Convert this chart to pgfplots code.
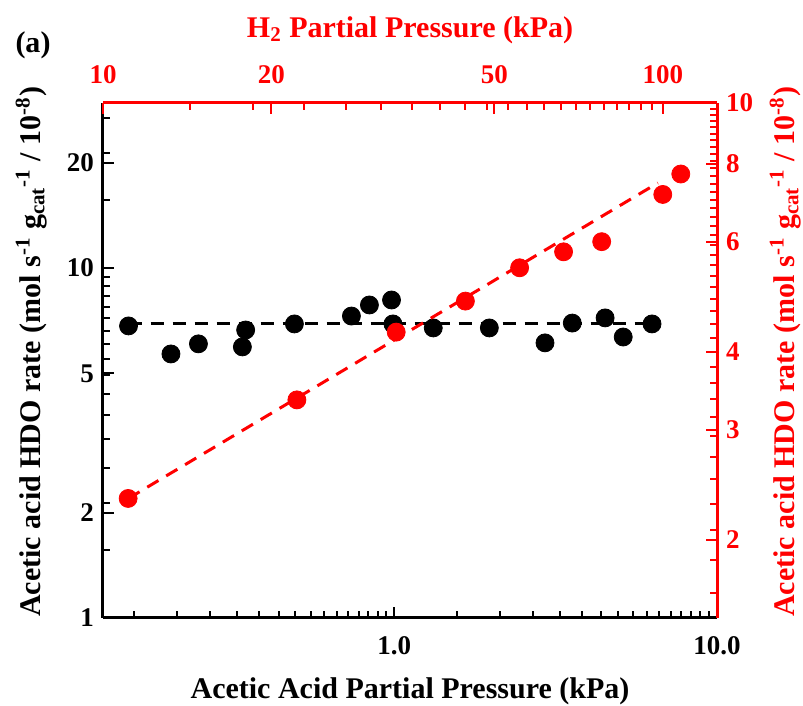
\documentclass[border=0pt]{standalone}
\usepackage{fontspec}
\setmainfont{Liberation Serif}
\usepackage{pgfplots}
\pgfplotsset{compat=1.18}
\usetikzlibrary{calc}
\definecolor{myred}{RGB}{255,0,0}

\begin{document}
\begin{tikzpicture}
\begin{axis}[name=ax,
  scale only axis, width=307pt, height=257.5pt,
  xmode=log, ymode=log,
  tick align=inside,
  major tick length=5.5pt, minor tick length=3.5pt,
  axis line style={line width=1.5pt,-},
  tick label style={font=\fontsize{13.5}{16}\selectfont\bfseries},
  label style={font=\fontsize{15}{18}\selectfont\bfseries},
  clip=false,
  xmin=0.125, xmax=10, ymin=1, ymax=29.6,
  axis x line*=bottom, axis y line*=left,
  tick style={black, line width=1pt},
  xtick={1,10}, xticklabels={1.0,10.0},
  ytick={1,2,5,10,20}, yticklabels={1,2,5,10,20},
  minor xtick={0.15625,0.2125,0.26875,0.325,0.38125,0.4375,0.49375,0.55,0.60625,0.6625,0.71875,0.775,0.83125,0.8875,0.94375,1.5625,2.125,2.6875,3.25,3.8125,4.375,4.9375,5.5,6.0625,6.625,7.1875,7.75,8.3125,8.875,9.4375},
  minor ytick={1.5625,2.125,2.6875,3.25,3.8125,4.375,4.9375,5.5,6.0625,6.625,7.1875,7.75,8.3125,8.875,9.4375,15.625,21.25,26.875},
  xticklabel style={yshift=-5.5pt},
  yticklabel style={xshift=-1pt},
  xlabel={Acetic Acid Partial Pressure (kPa)},
  ylabel={Acetic acid HDO rate (mol s\textsuperscript{-1} g\textsubscript{cat}\textsuperscript{-1} / 10\textsuperscript{-8})},
  xlabel style={at={(axis description cs:0.5,-0.142)}, anchor=center},
  ylabel style={at={(axis description cs:-0.117,0.517)}, anchor=center},
]
\addplot[black, line width=1.5pt, dash pattern=on 6.5pt off 4.5pt] coordinates {(0.15,6.92) (6.29,6.92)};
\addplot[only marks, mark=*, mark size=4.5pt, mark options={fill=black, draw=black}] coordinates {
(0.150,6.83) (0.203,5.68) (0.247,6.07) (0.338,5.95) (0.346,6.65) (0.490,6.92)
(0.736,7.29) (0.837,7.84) (0.98,8.1) (0.99,6.92) (1.32,6.74) (1.97,6.74)
(2.93,6.11) (3.56,6.96) (4.50,7.2) (5.12,6.35) (6.29,6.92)};
\end{axis}
\begin{axis}[
  scale only axis, width=307pt, height=257.5pt,
  xmode=log, ymode=log,
  tick align=inside,
  major tick length=5.5pt, minor tick length=3.5pt,
  axis line style={line width=1.5pt,-,myred},
  tick label style={font=\fontsize{13.5}{16}\selectfont\bfseries, myred},
  label style={font=\fontsize{15}{18}\selectfont\bfseries, myred},
  clip=false,
  xmin=10, xmax=125, ymin=1.5, ymax=10,
  axis x line*=top, axis y line*=right,
  tick style={myred, line width=1pt},
  xtick={10,20,50,100}, xticklabels={10,20,50,100},
  ytick={2,3,4,6,8,10}, yticklabels={2,3,4,6,8,10},
  minor xtick={14.285714,18.571429,22.857143,27.142857,31.428571,35.714286,40,44.285714,48.571429,52.857143,57.142857,61.428571,65.714286,70,74.285714,78.571429,82.857143,87.142857,91.428571,95.714286},
  minor ytick={1.642857,1.857143,2.071429,2.285714,2.5,2.714286,2.928571,3.142857,3.357143,3.571429,3.785714,4.214286,4.428571,4.642857,4.857143,5.071429,5.285714,5.5,5.714286,5.928571,6.142857,6.357143,6.571429,6.785714,7.0,7.214286,7.428571,7.642857,7.857143,8.071429,8.285714,8.5,8.714286,8.928571,9.142857,9.357143,9.571429,9.785714},
  xticklabel style={yshift=6pt},
  yticklabel style={xshift=1pt},
  xlabel={H\textsubscript{2} Partial Pressure (kPa)},
  ylabel={Acetic acid HDO rate (mol s\textsuperscript{-1} g\textsubscript{cat}\textsuperscript{-1} / 10\textsuperscript{-8})},
  xlabel style={at={(axis description cs:0.5,1.142)}, anchor=center},
  ylabel style={at={(axis description cs:1.111,0.517)}, anchor=center},
]
\addplot[myred, line width=1.5pt, dash pattern=on 6.5pt off 4.5pt] coordinates {(11.1,2.33) (98,7.45)};
\addplot[only marks, mark=*, mark size=4.5pt, mark options={fill=myred, draw=myred}] coordinates {
(11.09,2.33) (22.2,3.35) (33.4,4.30) (44.4,4.82) (55.5,5.45) (66.5,5.78)
(77.8,6.0) (100,7.14) (107.7,7.7)};
\end{axis}
\node[font=\fontsize{15}{18}\selectfont\bfseries, anchor=center] at ($(ax.north west)+(-35pt,29pt)$) {(a)};
\pgfresetboundingbox
\path[use as bounding box] ($(ax.south west)+(-51.5pt,-44pt)$) rectangle ($(ax.north east)+(43pt,51.5pt)$);
\end{tikzpicture}
\end{document}
